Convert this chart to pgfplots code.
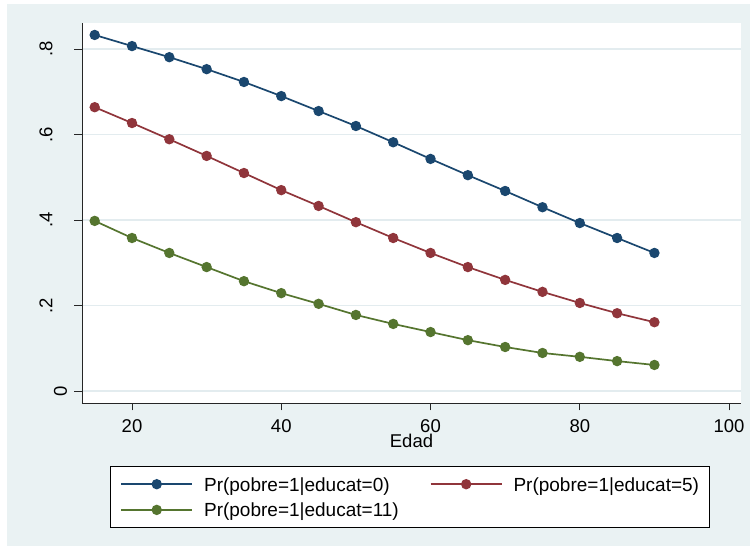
\documentclass[border=0pt]{standalone}
\usepackage{fontspec}
\setmainfont{Liberation Sans}
\usepackage{pgfplots}
\pgfplotsset{compat=1.18}
\definecolor{snavy}{HTML}{1A476F}
\definecolor{smaroon}{HTML}{90353B}
\definecolor{sgreen}{HTML}{55752F}
\definecolor{sbg}{HTML}{EAF2F3}
\definecolor{sgrid}{HTML}{E3ECEF}
\newcommand\f{\fontsize{18.5bp}{22bp}\selectfont}
\newcommand\fl{\fontsize{19bp}{22bp}\selectfont}
\begin{document}
\begin{tikzpicture}[x=1bp,y=1bp]
% image frame: img_x = 82 + X, img_y = 403 - Y
\fill[white] (-82,-147) rectangle (669,403);
\fill[sbg] (-75,-143) rectangle (668,399);
\begin{axis}[
  at={(0,0)}, anchor=south west,
  scale only axis, width=659bp, height=380bp,
  xmin=13.3, xmax=101.6, ymin=-0.028, ymax=0.861,
  axis background/.style={fill=white},
  axis x line*=bottom, axis y line*=left,
  axis line style={black!85, line width=0.9bp},
  tick align=outside, major tick length=7.5bp,
  tick style={black!85, line width=0.9bp},
  xtick={20,40,60,80,100},
  ytick={0,0.2,0.4,0.6,0.8},
  yticklabels={\raisebox{-15bp}[0pt][0pt]{0},.2,.4,.6,.8},
  /pgf/number format/assume math mode=true,
  ymajorgrids, major grid style={sgrid, line width=1.5bp},
  tick label style={font=\f},
  xticklabel style={anchor=north, inner sep=0pt, yshift=-9bp},
  yticklabel style={xshift=-22bp, rotate=90, anchor=south, inner sep=0pt, text depth=0pt},
  xlabel={Edad}, xlabel style={font=\f, at={(0.5,0)}, anchor=base, yshift=-45bp, inner sep=0pt},
  legend columns=2,
  legend cell align=left,
  legend image code/.code={\draw[mark repeat=2,mark phase=2] plot coordinates {(0bp,0bp) (35.5bp,0bp) (71bp,0bp)};},
  legend style={at={(0.0425,-0.1658)}, anchor=north west, draw=black, line width=0.8bp,
    fill=white, font=\fl, inner xsep=10bp, inner ysep=10.8bp, row sep=11.7bp,
    nodes={inner sep=0pt, text height=14bp, text depth=0pt},
    /tikz/every odd column/.append style={column sep=11bp},
    /tikz/every even column/.append style={column sep=31bp}},
  every axis plot/.append style={line width=1.7bp, mark=*, mark size=4.3bp, mark options={solid}},
]
\addplot[snavy, mark options={fill=snavy, draw=snavy}] coordinates {
(15,0.833) (20,0.807) (25,0.781) (30,0.753) (35,0.723) (40,0.690) (45,0.655) (50,0.620)
(55,0.582) (60,0.543) (65,0.505) (70,0.468) (75,0.430) (80,0.393) (85,0.358) (90,0.323)};
\addlegendentry{Pr(pobre=1|educat=0)}
\addplot[smaroon, mark options={fill=smaroon, draw=smaroon}] coordinates {
(15,0.664) (20,0.627) (25,0.589) (30,0.550) (35,0.510) (40,0.470) (45,0.433) (50,0.395)
(55,0.358) (60,0.323) (65,0.290) (70,0.260) (75,0.232) (80,0.206) (85,0.182) (90,0.161)};
\addlegendentry{Pr(pobre=1|educat=5)}
\addplot[sgreen, mark options={fill=sgreen, draw=sgreen}] coordinates {
(15,0.398) (20,0.358) (25,0.323) (30,0.290) (35,0.257) (40,0.229) (45,0.204) (50,0.178)
(55,0.157) (60,0.138) (65,0.119) (70,0.103) (75,0.089) (80,0.080) (85,0.070) (90,0.061)};
\addlegendentry{Pr(pobre=1|educat=11)}
\end{axis}
\end{tikzpicture}
\end{document}
